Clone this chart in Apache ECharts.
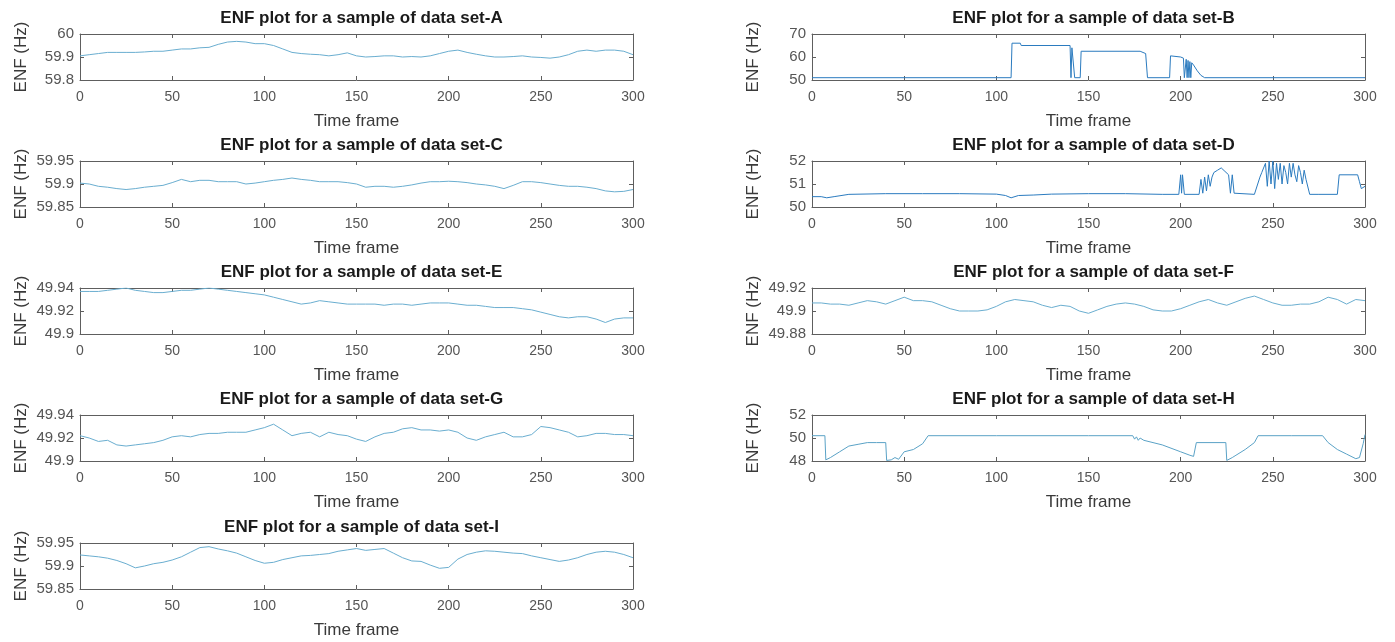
<!DOCTYPE html>
<html>
<head>
<meta charset="utf-8">
<script src="https://cdn.jsdelivr.net/npm/echarts@6/dist/echarts.min.js"></script>
<style>
  html, body { margin: 0; padding: 0; background: #fff; }
  #chart { width: 1395px; height: 642px; }
</style>
</head>
<body>
<div id="chart"></div>
<script>
// time frames for the sampled (smooth) data sets
const frames = [0, 5, 10, 15, 20, 25, 30, 35, 40, 45, 50, 55, 60, 65, 70, 75, 80, 85, 90, 95,
  100, 105, 110, 115, 120, 125, 130, 135, 140, 145, 150, 155, 160, 165, 170, 175, 180, 185, 190, 195,
  200, 205, 210, 215, 220, 225, 230, 235, 240, 245, 250, 255, 260, 265, 270, 275, 280, 285, 290, 295, 300];

const enfA = [59.905, 59.91, 59.915, 59.92, 59.92, 59.92, 59.92, 59.922, 59.925, 59.925, 59.93, 59.935, 59.935, 59.94, 59.942, 59.955, 59.965, 59.968, 59.965, 59.958,
  59.958, 59.95, 59.935, 59.92, 59.915, 59.912, 59.91, 59.905, 59.91, 59.918, 59.905, 59.9, 59.902, 59.905, 59.905, 59.9, 59.902, 59.9, 59.905, 59.915,
  59.925, 59.93, 59.92, 59.912, 59.905, 59.9, 59.9, 59.902, 59.905, 59.9, 59.898, 59.895, 59.9, 59.91, 59.925, 59.93, 59.925, 59.93, 59.93, 59.925, 59.91];

const enfC = [59.902, 59.9, 59.895, 59.893, 59.89, 59.888, 59.89, 59.893, 59.895, 59.897, 59.903, 59.91, 59.905, 59.908, 59.908, 59.905, 59.905, 59.905, 59.9, 59.902,
  59.905, 59.908, 59.91, 59.913, 59.91, 59.908, 59.905, 59.905, 59.905, 59.903, 59.9, 59.893, 59.895, 59.895, 59.893, 59.895, 59.898, 59.902, 59.905, 59.905,
  59.906, 59.905, 59.903, 59.9, 59.898, 59.895, 59.89, 59.897, 59.905, 59.905, 59.903, 59.9, 59.897, 59.895, 59.895, 59.893, 59.89, 59.885, 59.883, 59.884, 59.888];

const enfE = [49.937, 49.937, 49.937, 49.938, 49.939, 49.94, 49.938, 49.937, 49.936, 49.936, 49.937, 49.938, 49.938, 49.939, 49.94, 49.939, 49.938, 49.937, 49.936, 49.935,
  49.934, 49.932, 49.93, 49.928, 49.926, 49.927, 49.929, 49.928, 49.927, 49.926, 49.926, 49.926, 49.926, 49.925, 49.926, 49.926, 49.925, 49.926, 49.927, 49.927,
  49.927, 49.926, 49.925, 49.925, 49.924, 49.923, 49.923, 49.923, 49.922, 49.921, 49.919, 49.917, 49.915, 49.914, 49.915, 49.915, 49.913, 49.91, 49.913, 49.914, 49.914];

const enfF = [49.907, 49.907, 49.906, 49.906, 49.905, 49.907, 49.909, 49.908, 49.906, 49.909, 49.912, 49.909, 49.909, 49.908, 49.905, 49.902, 49.9, 49.9, 49.9, 49.901,
  49.904, 49.908, 49.91, 49.909, 49.908, 49.905, 49.903, 49.905, 49.904, 49.9, 49.898, 49.901, 49.904, 49.906, 49.907, 49.906, 49.904, 49.901, 49.9, 49.9,
  49.902, 49.905, 49.908, 49.91, 49.907, 49.905, 49.908, 49.911, 49.913, 49.91, 49.907, 49.905, 49.905, 49.906, 49.906, 49.908, 49.912, 49.91, 49.906, 49.91, 49.909];

const enfG = [49.922, 49.92, 49.917, 49.918, 49.914, 49.913, 49.914, 49.915, 49.916, 49.918, 49.921, 49.922, 49.921, 49.923, 49.924, 49.924, 49.925, 49.925, 49.925, 49.927,
  49.929, 49.932, 49.927, 49.922, 49.924, 49.925, 49.921, 49.925, 49.923, 49.922, 49.919, 49.917, 49.921, 49.924, 49.925, 49.928, 49.929, 49.927, 49.927, 49.926,
  49.927, 49.925, 49.92, 49.918, 49.921, 49.923, 49.925, 49.921, 49.921, 49.923, 49.93, 49.929, 49.927, 49.925, 49.921, 49.922, 49.924, 49.924, 49.923, 49.923, 49.922];

const enfI = [59.924, 59.922, 59.92, 59.917, 59.912, 59.905, 59.896, 59.9, 59.905, 59.908, 59.913, 59.92, 59.93, 59.94, 59.942, 59.937, 59.933, 59.928, 59.92, 59.912,
  59.906, 59.908, 59.914, 59.918, 59.922, 59.923, 59.925, 59.927, 59.932, 59.935, 59.938, 59.934, 59.936, 59.938, 59.928, 59.918, 59.911, 59.91, 59.902, 59.895,
  59.897, 59.915, 59.925, 59.93, 59.933, 59.932, 59.93, 59.928, 59.927, 59.922, 59.918, 59.914, 59.91, 59.913, 59.918, 59.925, 59.93, 59.932, 59.93, 59.925, 59.918];

// stepped data sets: own time frames
const framesB = [0, 108, 108.5, 109, 113, 113.5, 140, 140.5, 141, 142, 142.5, 143, 145.5, 146, 178, 181, 182, 183, 194, 194.5,
  200, 201.5, 202, 203, 203.5, 204, 204.5, 205, 205.5, 206, 207, 209, 211, 213, 300];
const enfB = [51, 51, 66, 66.3, 66, 65, 65, 51, 64, 64, 51, 51, 51, 62.5, 62.5, 61.5, 51, 51, 51, 60.5,
  60, 59.5, 51, 59, 51, 58.5, 51, 58, 51, 57.5, 56.5, 54, 52, 51, 51];

const framesD = [0, 5, 8, 12, 20, 40, 60, 80, 100, 105, 108, 112, 120, 130, 150, 170, 190, 199, 200, 200.5,
  201, 202, 210, 211, 212, 213, 214, 215, 216, 217, 218, 219, 220, 222, 224, 226, 227, 228, 229, 230,
  240, 243, 244, 246, 247, 248, 249, 250, 251, 252, 253, 254, 255, 256, 257, 258, 259, 260, 261, 262,
  263, 264, 265, 266, 267, 268, 270, 275, 285, 286, 296, 297, 298, 300];
const enfD = [50.45, 50.45, 50.4, 50.45, 50.55, 50.58, 50.58, 50.58, 50.56, 50.5, 50.4, 50.5, 50.52, 50.56, 50.58, 50.58, 50.55, 50.55, 51.4, 50.6,
  51.4, 50.55, 50.55, 51.2, 50.6, 51.3, 50.7, 51.4, 50.9, 51.3, 51.5, 51.55, 51.6, 51.7, 51.55, 51.4, 50.6, 51.4, 50.6, 50.55,
  50.55, 51.3, 51.5, 51.9, 50.9, 52, 51, 52, 50.8, 51.9, 51.2, 51.9, 51, 51.8, 51.5, 51, 51.9, 51.3, 51.9, 51.4,
  51.1, 51.8, 51.5, 51, 51.6, 51.2, 50.55, 50.55, 50.55, 51.4, 51.4, 51.1, 50.8, 50.9];

const framesH = [0, 7, 7.5, 10, 15, 20, 25, 30, 35, 40, 40.5, 43, 45, 47, 50, 55, 60, 63, 100, 150,
  174, 175, 176, 177, 178, 180, 190, 200, 205, 207, 208, 208.5, 209, 224.5, 225, 228, 230, 235, 240, 242,
  260, 277, 280, 285, 290, 295, 297, 299, 300];
const enfH = [50.2, 50.2, 48.1, 48.3, 48.8, 49.3, 49.45, 49.6, 49.6, 49.6, 48.05, 48.1, 48.3, 48.15, 48.8, 49.0, 49.5, 50.2, 50.2, 50.2,
  50.2, 49.9, 50.1, 49.8, 50.0, 49.8, 49.4, 48.8, 48.5, 48.4, 48.4, 49.6, 49.6, 49.6, 48.05, 48.3, 48.5, 49.0, 49.6, 50.2,
  50.2, 50.2, 49.6, 49.0, 48.6, 48.2, 48.3, 49.5, 50.3];

const xTicks = [0, 300, 50]; // min, max, step
const panels = [
  { name: 'A', x: frames,  y: enfA, yMin: 59.8,  yMax: 60,    yStep: 0.1 },
  { name: 'B', x: framesB, y: enfB, yMin: 50,    yMax: 70,    yStep: 10 },
  { name: 'C', x: frames,  y: enfC, yMin: 59.85, yMax: 59.95, yStep: 0.05 },
  { name: 'D', x: framesD, y: enfD, yMin: 50,    yMax: 52,    yStep: 1 },
  { name: 'E', x: frames,  y: enfE, yMin: 49.9,  yMax: 49.94, yStep: 0.02 },
  { name: 'F', x: frames,  y: enfF, yMin: 49.88, yMax: 49.92, yStep: 0.02 },
  { name: 'G', x: frames,  y: enfG, yMin: 49.9,  yMax: 49.94, yStep: 0.02 },
  { name: 'H', x: framesH, y: enfH, yMin: 48,    yMax: 52,    yStep: 2 },
  { name: 'I', x: frames,  y: enfI, yMin: 59.85, yMax: 59.95, yStep: 0.05 }
];

// layout (px)
const colLeft = [80, 812];
const plotW = 553;
const rowTop = [34, 161, 288, 415, 543];
const plotH = 46;
const FONT = '"Liberation Sans", Arial, sans-serif';
const boxColor = '#5e5e5e';
const smooth = '#6aaed0';
const lineColor = { A: smooth, B: '#2b7bbf', C: smooth, D: '#2b7bbf', E: smooth, F: smooth, G: smooth, H: '#5aa2c6', I: smooth };

const chart = echarts.init(document.getElementById('chart'), null, { renderer: 'canvas' });

const grid = [], xAxis = [], yAxis = [], series = [], title = [];
panels.forEach((p, i) => {
  const left = colLeft[i % 2];
  const top = rowTop[Math.floor(i / 2)];
  grid.push({ left, top, width: plotW, height: plotH, containLabel: false, outerBoundsMode: 'none' });
  title.push({
    text: 'ENF plot for a sample of data set-' + p.name,
    left: left + plotW / 2,
    top: top - 29,
    textAlign: 'center',
    textStyle: { fontFamily: FONT, fontSize: 17, fontWeight: 'bold', color: '#1a1a1a' }
  });
  const common = {
    type: 'value', gridIndex: i, min: xTicks[0], max: xTicks[1], interval: xTicks[2],
    axisLine: { show: true, onZero: false, lineStyle: { color: boxColor, width: 1 } },
    axisTick: { show: true, inside: true, length: 4, lineStyle: { color: boxColor } },
    splitLine: { show: false }
  };
  xAxis.push(Object.assign({}, common, {
    position: 'bottom',
    name: 'Time frame', nameLocation: 'middle', nameGap: 33,
    nameTextStyle: { fontFamily: FONT, fontSize: 17, color: '#3a3a3a' },
    axisLabel: { fontFamily: FONT, fontSize: 14, color: '#555', margin: 10 }
  }));
  xAxis.push(Object.assign({}, common, { position: 'top', axisLabel: { show: false } }));
  const ycommon = {
    type: 'value', gridIndex: i, min: p.yMin, max: p.yMax, interval: p.yStep,
    axisLine: { show: true, onZero: false, lineStyle: { color: boxColor, width: 1 } },
    axisTick: { show: true, inside: true, length: 4, lineStyle: { color: boxColor } },
    splitLine: { show: false }
  };
  yAxis.push(Object.assign({}, ycommon, {
    position: 'left',
    name: 'ENF (Hz)', nameLocation: 'middle', nameGap: 50, nameRotate: 90,
    nameTextStyle: { fontFamily: FONT, fontSize: 17, color: '#3a3a3a' },
    axisLabel: { fontFamily: FONT, fontSize: 15, color: '#555', margin: 6 }
  }));
  yAxis.push(Object.assign({}, ycommon, { position: 'right', axisLabel: { show: false } }));
  series.push({
    type: 'line',
    xAxisIndex: i * 2,
    yAxisIndex: i * 2,
    data: p.x.map((t, k) => [t, p.y[k]]),
    showSymbol: false,
    silent: true,
    animation: false,
    lineStyle: { width: 1, color: lineColor[p.name] }
  });
});

chart.setOption({
  backgroundColor: '#fff',
  animation: false,
  title, grid, xAxis, yAxis, series
});
window.addEventListener('resize', () => chart.resize());
</script>
</body>
</html>
